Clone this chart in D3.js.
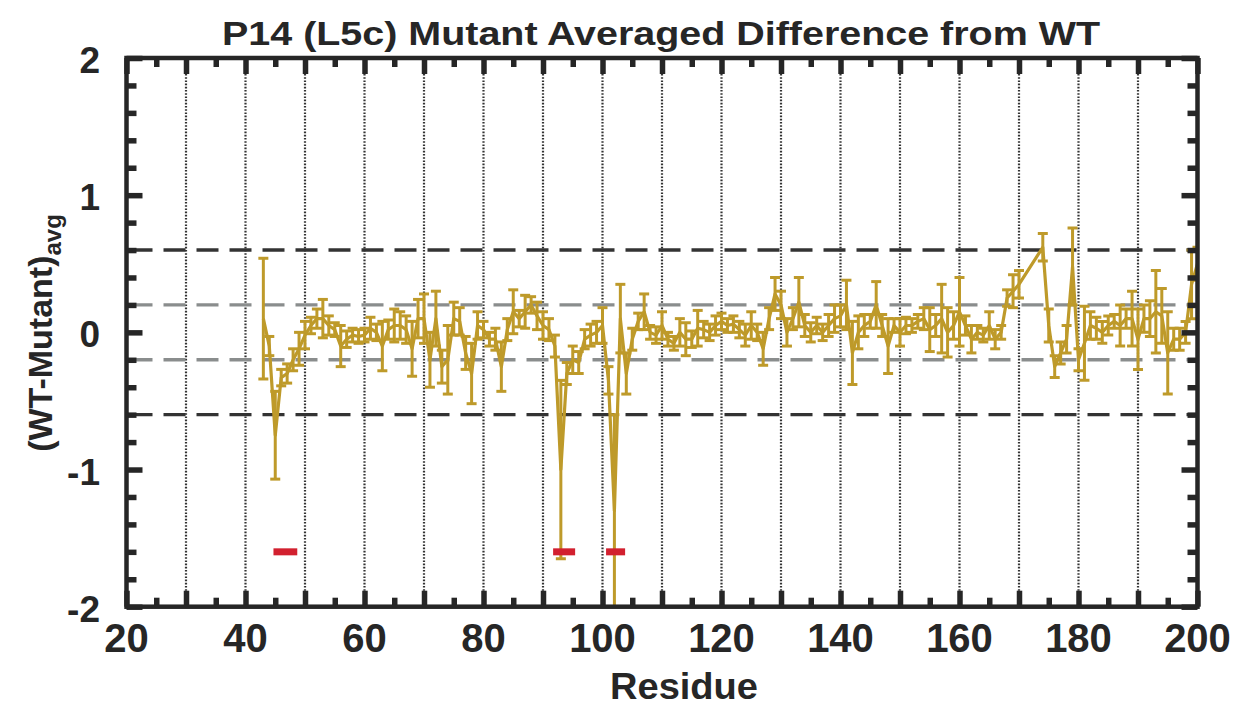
<!DOCTYPE html>
<html>
<head>
<meta charset="utf-8">
<script src="https://cdn.jsdelivr.net/npm/d3@7/dist/d3.min.js"></script>
<style>
  html, body { margin: 0; padding: 0; background: #fff; }
  svg { display: block; }
  text { font-family: "Liberation Sans", Arial, Helvetica, sans-serif; font-weight: bold; fill: #262626; }
</style>
</head>
<body>
<svg id="chart" width="1242" height="707"></svg>
<script>
// Residue numbers with measured averaged differences (WT - mutant) and their errors
const residues = [
  43,44,45,46,47,48,49,50,51,52,53,54,55,56,57,58,59,60,61,62,63,64,65,66,67,68,69,
  70,71,72,73,74,75,76,77,78,79,80,81,82,83,84,85,86,87,88,89,90,91,92,93,94,95,96,97,98,99,
  100,101,102,103,104,105,106,107,108,109,110,111,112,113,114,115,116,117,118,119,
  120,121,122,123,124,125,126,127,128,129,130,131,132,133,134,135,136,137,138,139,
  140,141,142,143,144,145,146,147,148,149,150,151,152,153,154,155,156,157,158,159,
  160,161,162,163,164,165,166,167,168,169,170,174,175,176,177,178,179,
  180,181,182,183,184,185,186,187,188,189,190,191,192,193,194,195,196,197,198,199,200
];
const diffAvg = [
  0.10,-0.10,-0.75,-0.33,-0.30,-0.20,-0.12,-0.02,0.05,0.10,0.10,0.05,0.02,-0.10,-0.05,-0.02,-0.03,-0.02,0.03,0.00,-0.10,0.02,0.05,0.05,0.02,-0.12,0.10,
  0.10,-0.20,0.10,-0.25,-0.20,0.10,0.08,-0.15,-0.30,0.05,0.02,-0.05,-0.05,-0.25,0.02,0.15,0.10,0.15,0.20,0.12,0.05,0.02,-0.10,-1.00,-0.30,-0.20,-0.22,-0.05,-0.02,0.00,
  0.05,-0.35,-1.30,0.10,-0.30,-0.05,0.08,0.15,0.00,-0.02,0.05,-0.05,-0.08,0.00,-0.05,-0.05,0.03,0.02,0.00,0.05,
  0.08,0.05,0.06,0.02,-0.02,0.05,0.00,-0.12,0.10,0.28,0.20,0.00,0.10,0.22,0.05,0.00,0.05,0.00,0.05,0.10,
  0.12,0.20,-0.15,0.00,0.05,0.08,0.20,0.05,-0.10,0.05,0.00,0.05,0.05,0.08,0.10,0.02,0.05,0.10,0.00,0.05,
  0.15,0.05,-0.05,0.00,-0.02,0.05,-0.05,0.00,0.25,0.30,0.35,0.62,0.05,-0.25,-0.15,-0.05,0.48,
  -0.20,-0.08,0.05,0.03,0.00,0.05,0.08,0.05,0.10,0.10,-0.05,0.10,0.10,0.15,0.12,-0.15,-0.05,-0.05,0.00,0.35,0.50
];
const diffErr = [
  0.44,0.07,0.32,0.06,0.07,0.08,0.12,0.10,0.06,0.07,0.14,0.07,0.05,0.15,0.06,0.05,0.05,0.05,0.08,0.06,0.18,0.07,0.12,0.10,0.10,0.20,0.14,
  0.18,0.20,0.20,0.12,0.25,0.12,0.10,0.12,0.22,0.10,0.06,0.05,0.08,0.18,0.08,0.16,0.06,0.12,0.06,0.10,0.10,0.08,0.08,0.65,0.08,0.10,0.08,0.07,0.08,0.08,
  0.13,0.10,0.70,0.25,0.15,0.08,0.06,0.13,0.05,0.06,0.10,0.05,0.05,0.10,0.12,0.06,0.13,0.06,0.06,0.07,
  0.06,0.05,0.06,0.06,0.08,0.10,0.06,0.12,0.08,0.12,0.10,0.10,0.08,0.18,0.08,0.07,0.06,0.06,0.08,0.10,
  0.08,0.18,0.23,0.12,0.08,0.05,0.17,0.08,0.20,0.05,0.10,0.06,0.05,0.05,0.08,0.16,0.08,0.25,0.18,0.10,
  0.25,0.07,0.10,0.05,0.05,0.10,0.07,0.05,0.06,0.12,0.10,0.10,0.12,0.08,0.08,0.10,0.28,
  0.08,0.27,0.10,0.08,0.08,0.07,0.05,0.15,0.07,0.20,0.22,0.10,0.13,0.30,0.20,0.30,0.08,0.08,0.08,0.25,0.12
];

// Mutation site markers (residue spans)
const siteStart = [44.7, 91.7, 100.6];
const siteEnd   = [48.7, 95.4, 103.8];
const siteLevel = -1.6;

// Threshold reference lines
const outerThreshold = [0.6, -0.6];
const innerThreshold = [0.2, -0.2];

// Axis ticks
const xTickLabels = [20, 40, 60, 80, 100, 120, 140, 160, 180, 200];
const xMajorTicks = d3.range(20, 201, 10);
const xMinorTicks = d3.range(25, 200, 10);
const yTickLabels = [2, 1, 0, -1, -2];
const yMinorTicks = d3.range(-1.8, 1.81, 0.2).filter(v => Math.abs(v - Math.round(v)) > 1e-6);
const xGrid = d3.range(30, 191, 10);

const titleText = "P14 (L5c) Mutant Averaged Difference from WT";
const xTitle = "Residue";

const svg = d3.select("#chart");
const m = { left: 126.5, right: 1197.5, top: 58, bottom: 606.7 };

const x = d3.scaleLinear().domain([20, 200]).range([m.left, m.right]);
const y = d3.scaleLinear().domain([-2, 2]).range([m.bottom, m.top]);

const ink = "#262626";
const lineColor = "#BE9A2A";

const clipId = "plotClip";
svg.append("defs").append("clipPath").attr("id", clipId)
  .append("rect").attr("x", m.left).attr("y", m.top)
  .attr("width", m.right - m.left).attr("height", m.bottom - m.top);

// Vertical dotted grid
svg.append("g").selectAll("line").data(xGrid).join("line")
  .attr("x1", d => x(d)).attr("x2", d => x(d))
  .attr("y1", m.top).attr("y2", m.bottom)
  .attr("stroke", "#333").attr("stroke-width", 2.2)
  .attr("stroke-dasharray", "1.6 1.6");

// Threshold lines
svg.append("g").selectAll("line").data(outerThreshold).join("line")
  .attr("x1", m.left).attr("x2", m.right)
  .attr("y1", d => y(d)).attr("y2", d => y(d))
  .attr("stroke", "#333").attr("stroke-width", 3.4)
  .attr("stroke-dasharray", "22 11").attr("stroke-dashoffset", -4);
svg.append("g").selectAll("line").data(innerThreshold).join("line")
  .attr("x1", m.left).attr("x2", m.right)
  .attr("y1", d => y(d)).attr("y2", d => y(d))
  .attr("stroke", "#8a8d8d").attr("stroke-width", 3.4)
  .attr("stroke-dasharray", "22 11").attr("stroke-dashoffset", -4);

// Data points
const pts = residues.map((r, i) => ({ r, v: diffAvg[i], e: diffErr[i] }));
const dataG = svg.append("g").attr("clip-path", `url(#${clipId})`);

const lineGen = d3.line().x(d => x(d.r)).y(d => y(d.v));
dataG.append("path").datum(pts)
  .attr("d", lineGen).attr("fill", "none")
  .attr("stroke", lineColor).attr("stroke-width", 3.2).attr("stroke-linejoin", "round");

const capW = 5;
const eb = dataG.append("g").attr("stroke", lineColor).attr("stroke-width", 3);
eb.selectAll("line.bar").data(pts).join("line").attr("class", "bar")
  .attr("x1", d => x(d.r)).attr("x2", d => x(d.r))
  .attr("y1", d => y(d.v - d.e)).attr("y2", d => y(d.v + d.e));
eb.selectAll("line.capT").data(pts).join("line").attr("class", "capT")
  .attr("x1", d => x(d.r) - capW).attr("x2", d => x(d.r) + capW)
  .attr("y1", d => y(d.v + d.e)).attr("y2", d => y(d.v + d.e));
eb.selectAll("line.capB").data(pts).join("line").attr("class", "capB")
  .attr("x1", d => x(d.r) - capW).attr("x2", d => x(d.r) + capW)
  .attr("y1", d => y(d.v - d.e)).attr("y2", d => y(d.v - d.e));

// Mutation site markers
svg.append("g").selectAll("rect").data(siteStart.map((s, i) => [s, siteEnd[i]])).join("rect")
  .attr("x", d => x(d[0])).attr("width", d => x(d[1]) - x(d[0]))
  .attr("y", y(siteLevel) - 3.5).attr("height", 7)
  .attr("fill", "#D2202F");

// Axes: frame with inward ticks on all four sides
function styleAxis(g) {
  g.select(".domain").remove();
  g.selectAll(".tick line").attr("stroke", ink).attr("stroke-width", 5.5);
  g.selectAll(".tick text").remove();
}
svg.append("g").attr("transform", `translate(0,${m.bottom})`)
  .call(d3.axisBottom(x).tickValues(xMajorTicks).tickSize(-16)).call(styleAxis);
svg.append("g").attr("transform", `translate(0,${m.bottom})`)
  .call(d3.axisBottom(x).tickValues(xMinorTicks).tickSize(-9)).call(styleAxis);
svg.append("g").attr("transform", `translate(0,${m.top})`)
  .call(d3.axisTop(x).tickValues(xMajorTicks).tickSize(-16)).call(styleAxis);
svg.append("g").attr("transform", `translate(0,${m.top})`)
  .call(d3.axisTop(x).tickValues(xMinorTicks).tickSize(-9)).call(styleAxis);
svg.append("g").attr("transform", `translate(${m.left},0)`)
  .call(d3.axisLeft(y).tickValues(yTickLabels).tickSize(-16)).call(styleAxis);
svg.append("g").attr("transform", `translate(${m.left},0)`)
  .call(d3.axisLeft(y).tickValues(yMinorTicks).tickSize(-10)).call(styleAxis);
svg.append("g").attr("transform", `translate(${m.right},0)`)
  .call(d3.axisRight(y).tickValues(yTickLabels).tickSize(-16)).call(styleAxis);
svg.append("g").attr("transform", `translate(${m.right},0)`)
  .call(d3.axisRight(y).tickValues(yMinorTicks).tickSize(-10)).call(styleAxis);

svg.append("rect")
  .attr("x", m.left).attr("y", m.top)
  .attr("width", m.right - m.left).attr("height", m.bottom - m.top)
  .attr("fill", "none").attr("stroke", ink).attr("stroke-width", 4.5);

// Tick labels
svg.append("g").selectAll("text").data(xTickLabels).join("text")
  .attr("x", d => x(d)).attr("y", 652)
  .attr("text-anchor", "middle").attr("font-size", 40)
  .text(d => d);
svg.append("g").selectAll("text").data(yTickLabels).join("text")
  .attr("x", 100).attr("y", d => y(d) + 15)
  .attr("text-anchor", "end").attr("font-size", 37)
  .text(d => d);

// Titles
svg.append("text").attr("x", 661).attr("y", 45)
  .attr("text-anchor", "middle").attr("font-size", 34)
  .attr("textLength", 878).attr("lengthAdjust", "spacingAndGlyphs")
  .text(titleText);
svg.append("text").attr("x", 684).attr("y", 699)
  .attr("text-anchor", "middle").attr("font-size", 36)
  .attr("textLength", 148).attr("lengthAdjust", "spacingAndGlyphs")
  .text(xTitle);
const yt = svg.append("text")
  .attr("transform", "translate(52,333) rotate(-90)")
  .attr("text-anchor", "middle").attr("font-size", 34);
yt.append("tspan").text("(WT-Mutant)");
yt.append("tspan").attr("font-size", 24).attr("dy", 9).text("avg");
</script>
</body>
</html>
